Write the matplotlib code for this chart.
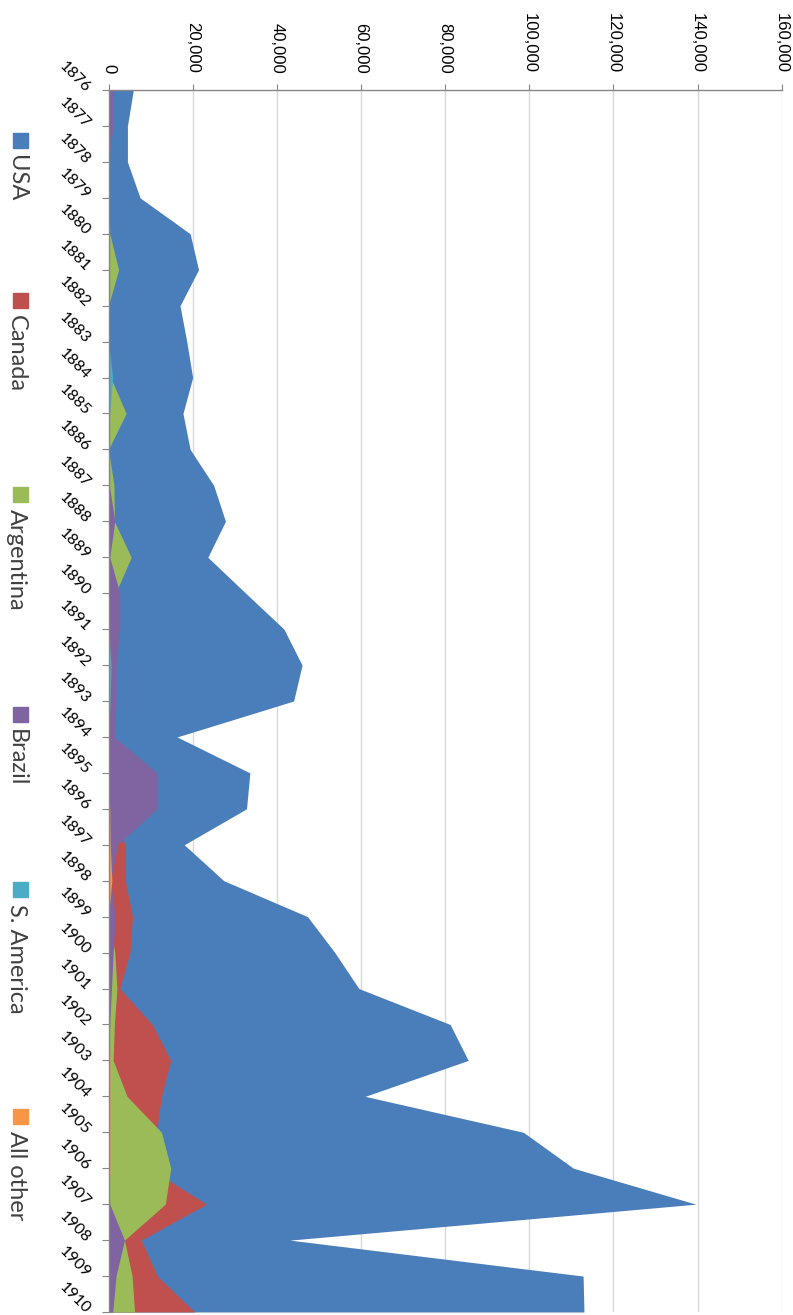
import matplotlib
matplotlib.use("Agg")
import matplotlib.pyplot as plt
from matplotlib.patches import Rectangle

years = list(range(1876, 1911))

usa = [5900, 4500, 4500, 7500, 19400, 21400, 17000, 18600, 20000, 17700,
       19400, 25000, 27800, 23600, 32600, 41700, 46000, 44000, 16300, 33600,
       32800, 18000, 27400, 47300, 53800, 59500, 81200, 85500, 61000, 98600,
       110500, 139600, 43100, 112800, 113000]
canada = [0] * 21 + [4000, 4000, 5700, 5100, 2700, 10400, 14800, 12600, 11400,
                     9800, 23300, 7800, 11600, 20500]
argentina = [0, 0, 0, 0, 300, 2400, 0, 0, 500, 4200,
             0, 1300, 1400, 5400, 1700, 500, 0, 0, 0, 0,
             0, 0, 0, 0, 1500, 2000, 1400, 1100, 4400, 12600,
             14800, 13500, 3800, 5600, 6200]
brazil = [1200, 1100, 0, 0, 0, 0, 0, 0, 0, 0,
          0, 200, 1500, 300, 2700, 2700, 1800, 1800, 1400, 11500,
          11500, 2200, 500, 1600, 1100, 700, 300, 0, 0, 0,
          0, 300, 3800, 1800, 1000]
s_america = [0, 0, 0, 0, 0, 0, 0, 0, 1000, 300,
             0, 0, 0, 0, 0, 0, 600, 400, 0, 0,
             0, 0, 0, 0, 0, 0, 0, 0, 0, 0,
             0, 0, 0, 0, 0]
all_other = [0, 0, 0, 0, 0, 0, 0, 0, 0, 0,
             0, 0, 0, 0, 0, 0, 0, 0, 0, 0,
             300, 400, 800, 0, 0, 0, 0, 400, 400, 400,
             400, 0, 0, 0, 0]

series_names = ["USA", "Canada", "Argentina", "Brazil", "S. America", "All other"]
series_values = [usa, canada, argentina, brazil, s_america, all_other]
colors = ["#4a7ebb", "#c0504d", "#9bbb59", "#8064a2", "#4bacc6", "#f79646"]
value_ticks = list(range(0, 160001, 20000))

W, H = 793, 1315
fig = plt.figure(figsize=(W / 100, H / 100), dpi=100)
x0, x1 = 108.5, 781.7
y0, y1 = 90, 1312
ax = fig.add_axes([x0 / W, 1 - y1 / H, (x1 - x0) / W, (y1 - y0) / H])

for vals, c in zip(series_values, colors):
    ax.fill_betweenx(years, 0, vals, color=c, linewidth=0)

ax.set_xlim(0, 160000)
ax.set_ylim(1910, 1876)
ax.set_axisbelow(True)
ax.grid(axis="x", color="#d9d9d9", linewidth=1)
ax.grid(axis="y", visible=False)

for s in ["right", "bottom"]:
    ax.spines[s].set_visible(False)
for s in ["top", "left"]:
    ax.spines[s].set_color("#868686")
    ax.spines[s].set_linewidth(1)

ax.xaxis.tick_top()
ax.set_xticks(value_ticks)
ax.set_xticklabels([f"{v:,}" for v in value_ticks], rotation=-90,
                   fontfamily="Liberation Sans", fontsize=12)
ax.tick_params(axis="x", direction="out", length=4, color="#868686", pad=8,
               top=True, bottom=False, labelcolor="black")

ax.set_yticks(years)
ax.set_yticklabels([str(y) for y in years], fontfamily="Lato", fontsize=11.5)
plt.setp(ax.get_yticklabels(), rotation=-45, ha="right", va="center",
         rotation_mode="anchor")
ax.tick_params(axis="y", direction="out", length=5, color="#868686", pad=10,
               labelcolor="black")

# legend (rotated, on the left)
square_tops = [133, 293, 487, 707, 882, 1109]
for name, c, sy in zip(series_names, colors, square_tops):
    fig.patches.append(Rectangle((13 / W, 1 - (sy + 15) / H), 15 / W, 15 / H,
                                 transform=fig.transFigure, color=c))
    fig.text(16 / W, 1 - (sy + 22) / H, name, rotation=-90, ha="center",
             va="top", fontsize=17, fontfamily="Lato", color="#404040")

fig.savefig("out.png", dpi=100)
